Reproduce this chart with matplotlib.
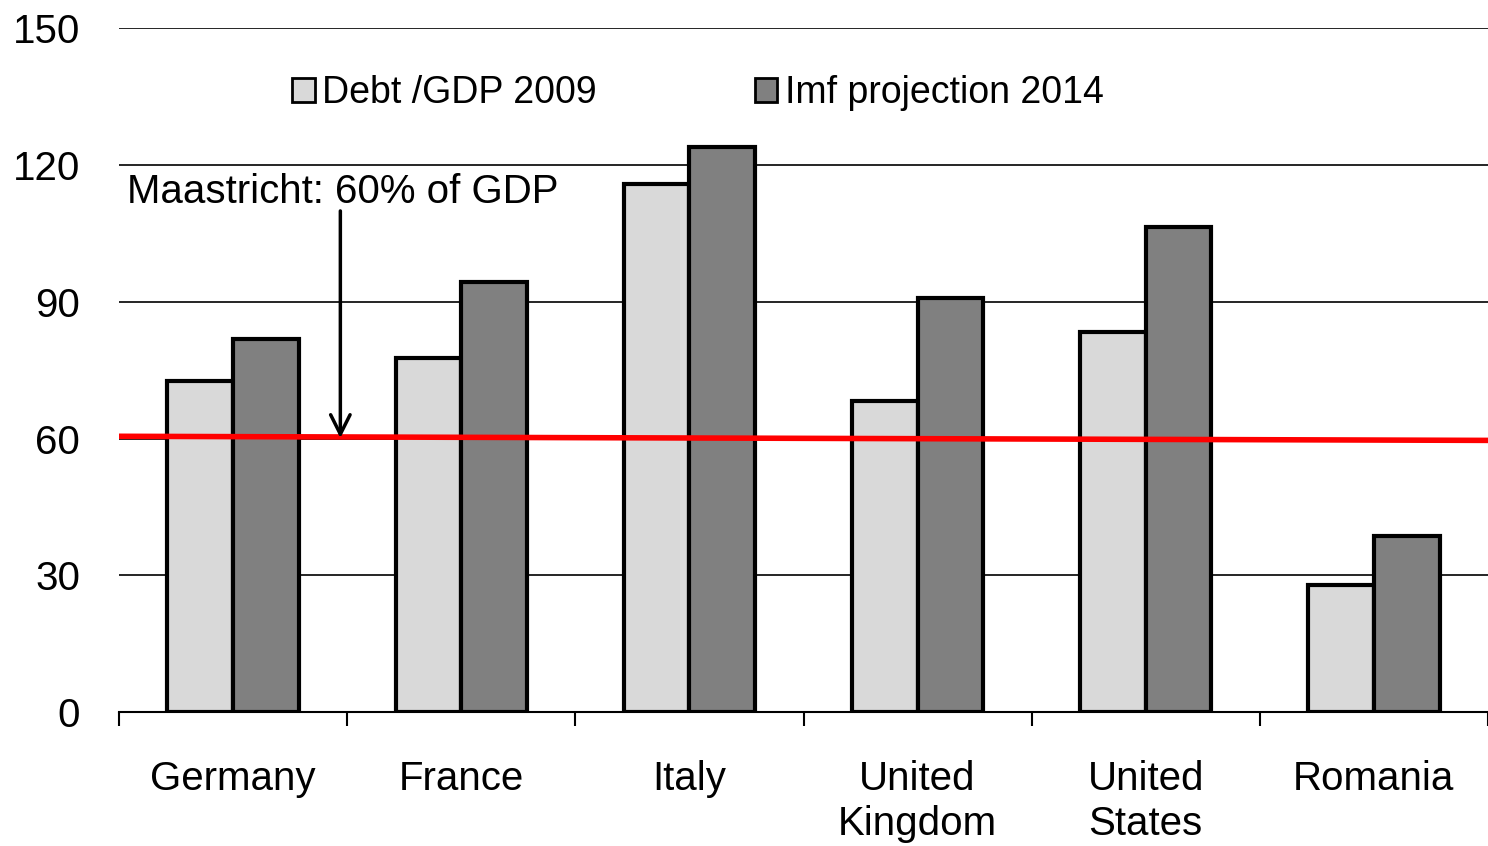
import numpy as np
import matplotlib.pyplot as plt

countries = ["Germany", "France", "Italy", "United\nKingdom", "United\nStates", "Romania"]
debt_2009 = [72.6, 77.6, 115.8, 68.2, 83.3, 27.9]
imf_2014 = [81.8, 94.3, 123.9, 90.8, 106.4, 38.6]

plt.rcParams['font.family'] = ['Liberation Sans', 'DejaVu Sans']

fig = plt.figure(figsize=(14.88, 8.46), dpi=100)
ax = fig.add_axes([0.08, 0.158, 0.92, 0.809])

x = np.arange(len(countries))
w = 0.288
ax.bar(x - w/2, debt_2009, w, color="#d9d9d9", edgecolor="black", linewidth=3, label="Debt /GDP 2009", zorder=3)
ax.bar(x + w/2, imf_2014, w, color="#808080", edgecolor="black", linewidth=3, label="Imf projection 2014", zorder=3)

ax.plot([-0.5, 5.5], [60.5, 59.6], color="red", linewidth=4, zorder=4)

ax.set_xlim(-0.5, 5.5)
ax.set_ylim(0, 150)
ax.set_yticks(range(0, 151, 30))
ax.grid(axis="y", color="black", linewidth=1.2, zorder=0)
ax.tick_params(axis="y", length=0, labelsize=29, pad=28)
ax.set_xticks(x)
ax.set_xticklabels(countries, fontsize=29, linespacing=1.25)
ax.set_xticks(np.arange(-0.5, 5.6, 1), minor=True)
ax.tick_params(axis="x", which="major", length=0, pad=34)
ax.tick_params(axis="x", which="minor", length=10, width=1.5, direction="out")
for s in ["top", "right", "left"]:
    ax.spines[s].set_visible(False)
ax.spines["bottom"].set_linewidth(1.5)
ax.spines["bottom"].set_zorder(5)

ax.annotate("", xy=(0.47, 59.5), xytext=(0.47, 110.5),
            arrowprops=dict(arrowstyle="->", color="black", lw=2.5, mutation_scale=35), zorder=6)
ax.text(-0.465, 114, "Maastricht: 60% of GDP", fontsize=29, stretch="condensed",
        family=["Liberation Sans Narrow", "Liberation Sans"], va="center", zorder=6)

ax.legend(loc="upper left", bbox_to_anchor=(0.102, 0.98), ncol=2, frameon=False, fontsize=27,
          handlelength=0.6, handleheight=0.6, handletextpad=0.2, columnspacing=4.2)
for h in ax.get_legend().legend_handles:
    h.set_linewidth(2)

fig.savefig("out.png", dpi=100)
